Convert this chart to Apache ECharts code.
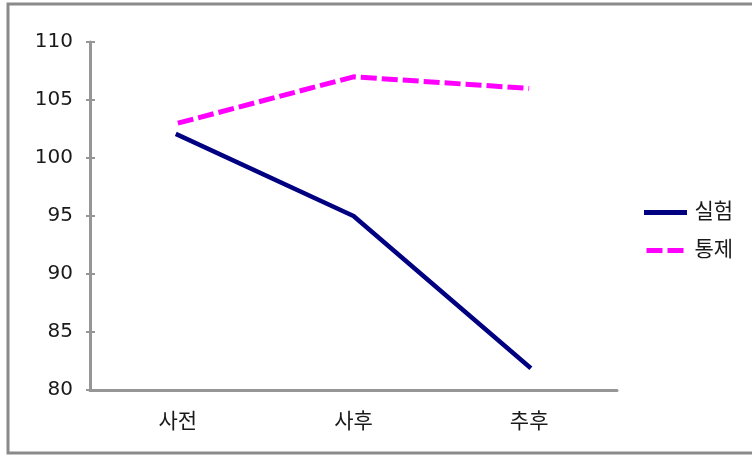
<!DOCTYPE html>
<html>
<head>
<meta charset="utf-8">
<script src="https://cdn.jsdelivr.net/npm/echarts@6/dist/echarts.min.js"></script>
<style>
  html, body { margin: 0; padding: 0; background: #fff; }
  #chart { width: 752px; height: 455px; }
</style>
</head>
<body>
<div id="chart"></div>
<script>
// Measurement phases and mean scores per group
const phases = ['사전', '사후', '추후'];
const experimental = [102, 95, 82];
const control = [103, 107, 106];
const yTicks = { min: 80, max: 110, step: 5 };

const FONT = '"Liberation Sans", "Noto Sans CJK KR", sans-serif';
const NUM_FONT = '"DejaVu Sans", "Liberation Sans", sans-serif';
const AXIS_GRAY = '#969696';
const TEXT = '#1a1a1a';

const chart = echarts.init(document.getElementById('chart'), null, { renderer: 'canvas' });

chart.setOption({
  animation: false,
  backgroundColor: '#fff',
  graphic: [{
    type: 'rect',
    shape: { x: 8, y: 4, width: 760, height: 449 },
    style: { fill: 'none', stroke: '#8a8a8a', lineWidth: 3 },
    silent: true
  }],
  grid: { left: 90, right: 135, top: 42, bottom: 65, containLabel: false },
  legend: {
    orient: 'vertical',
    left: 639,
    top: 197,
    itemWidth: 38,
    itemHeight: 14,
    itemGap: 17,
    itemStyle: { opacity: 0 },
    lineStyle: { width: 5 },
    textStyle: { fontFamily: FONT, fontSize: 21, color: TEXT, padding: [2, 0, 0, 5] },
    data: ['실험', '통제']
  },
  xAxis: {
    type: 'category',
    data: phases,
    boundaryGap: true,
    axisLine: { lineStyle: { color: AXIS_GRAY, width: 3 } },
    axisTick: { show: false },
    axisLabel: { fontFamily: FONT, fontSize: 21, color: TEXT, margin: 22 }
  },
  yAxis: [{
    type: 'value',
    min: yTicks.min,
    max: yTicks.max,
    interval: yTicks.step,
    axisLine: { show: true, lineStyle: { color: AXIS_GRAY, width: 3 } },
    axisTick: { show: true, length: 4, lineStyle: { color: AXIS_GRAY, width: 2 } },
    splitLine: { show: false },
    axisLabel: { fontFamily: NUM_FONT, fontSize: 20, color: TEXT, margin: 17, padding: [5, 0, 0, 0] }
  }, {
    // inner half of the crossing tick marks
    type: 'value',
    position: 'left',
    min: yTicks.min,
    max: yTicks.max,
    interval: yTicks.step,
    axisLine: { show: false },
    axisTick: { show: true, inside: true, length: 5, lineStyle: { color: AXIS_GRAY, width: 2 } },
    splitLine: { show: false },
    axisLabel: { show: false }
  }],
  series: [{
    name: '실험',
    type: 'line',
    data: experimental,
    symbol: 'none',
    lineStyle: { color: '#000080', width: 4.5, cap: 'square' },
    itemStyle: { color: '#000080' }
  }, {
    name: '통제',
    type: 'line',
    data: control,
    symbol: 'none',
    lineStyle: { color: '#ff00ff', width: 5, type: [16, 5], cap: 'butt' },
    itemStyle: { color: '#ff00ff' }
  }]
});
</script>
</body>
</html>
